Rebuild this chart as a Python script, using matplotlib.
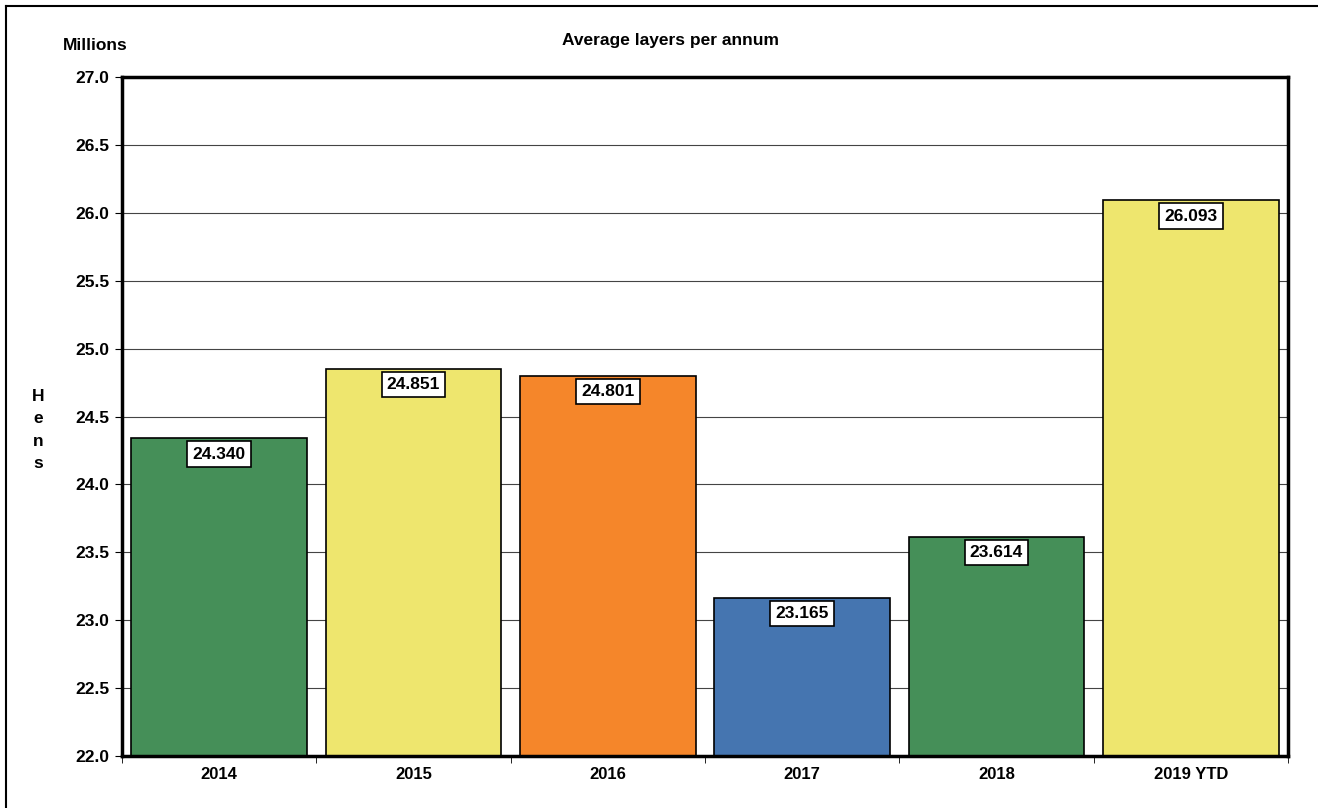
import matplotlib
matplotlib.use("Agg")
import matplotlib.pyplot as plt
from matplotlib.lines import Line2D

plt.rcParams['font.family'] = ['Liberation Sans', 'DejaVu Sans']
plt.rcParams['font.weight'] = 'bold'

# data
years = ["2014", "2015", "2016", "2017", "2018", "2019 YTD"]
hens = [24.340, 24.851, 24.801, 23.165, 23.614, 26.093]
colors = ["#458f58", "#eee66e", "#f5862a", "#4575b0", "#458f58", "#eee66e"]
yticks = [22.0, 22.5, 23.0, 23.5, 24.0, 24.5, 25.0, 25.5, 26.0, 26.5, 27.0]

fig = plt.figure(figsize=(13.18, 8.08), dpi=100)
ax = fig.add_axes([122 / 1318, 1 - 756 / 808, (1288 - 122) / 1318, (756 - 77) / 808])

x = list(range(len(years)))
ax.bar(x, hens, width=0.905, color=colors, edgecolor="black", linewidth=1.2, zorder=3)

ax.set_ylim(22, 27)
ax.set_xlim(-0.5, len(years) - 0.5)
ax.set_yticks(yticks)
ax.set_yticklabels([f"{t:.1f}" for t in yticks], fontsize=12.5, fontweight='bold')
ax.yaxis.grid(True, color="#444444", linewidth=0.8, zorder=0)

# category labels centred, ticks at the boundaries
ax.set_xticks(x)
ax.set_xticklabels(years, fontsize=12, fontweight='bold')
ax.tick_params(axis='x', length=0, pad=8)
ax.set_xticks([i - 0.5 for i in range(len(years) + 1)], minor=True)
ax.tick_params(axis='x', which='minor', length=5, direction='out')
ax.tick_params(axis='y', length=5, direction='out', pad=4)

for s in ax.spines.values():
    s.set_linewidth(2.5)
    s.set_zorder(5)

for xi, v in zip(x, hens):
    ax.annotate(f"{v:.3f}", (xi, v), xytext=(0, -6), textcoords='offset points',
                ha='center', va='top', fontsize=12.5, fontweight='bold', zorder=6,
                bbox=dict(boxstyle='square,pad=0.3', fc='white', ec='black', lw=1.2))

fig.text(670 / 1318, 1 - 40 / 808, "Average layers per annum", ha='center', va='center',
         fontsize=12.5, fontweight='bold')
fig.text(95 / 1318, 1 - 45 / 808, "Millions", ha='center', va='center',
         fontsize=12.5, fontweight='bold')
fig.text(38 / 1318, 1 - 430 / 808, "H\ne\nn\ns", ha='center', va='center',
         fontsize=12.5, fontweight='bold', linespacing=1.6)

# outer chart border
fig.add_artist(Line2D([6 / 1318, 6 / 1318], [0, 1 - 6 / 808], transform=fig.transFigure,
                      color='black', lw=1.5))
fig.add_artist(Line2D([6 / 1318, 1], [1 - 6 / 808, 1 - 6 / 808], transform=fig.transFigure,
                      color='black', lw=1.5))

fig.savefig("out.png", dpi=100)
